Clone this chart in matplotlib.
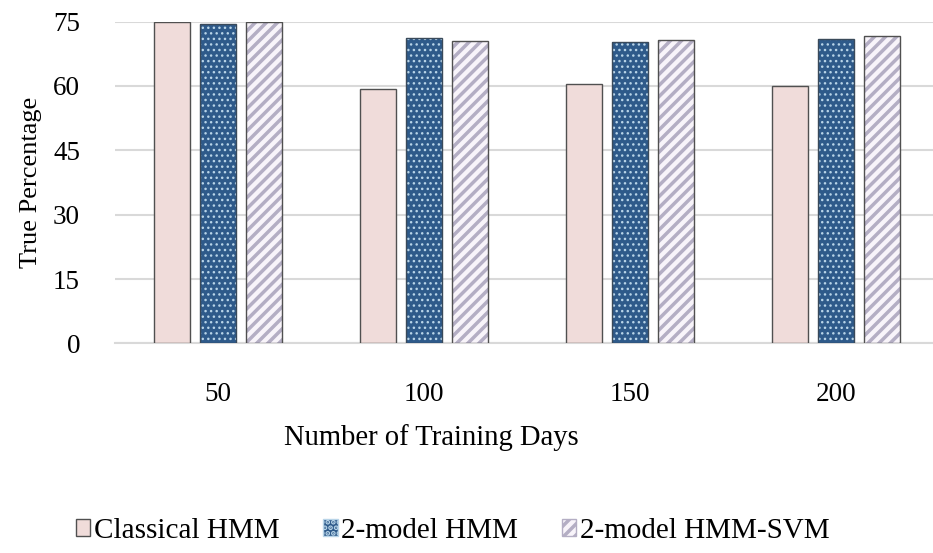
import matplotlib
matplotlib.use("Agg")
import matplotlib.pyplot as plt
import numpy as np
from matplotlib.patches import Patch

days = ["50", "100", "150", "200"]
classical = [74.8, 59.3, 60.5, 59.9]
two_model = [74.5, 71.1, 70.3, 71.0]
hmm_svm = [74.8, 70.5, 70.7, 71.7]
yticks = [0, 15, 30, 45, 60, 75]

plt.rcParams['font.family'] = ['Liberation Serif', 'DejaVu Serif']
plt.rcParams['font.size'] = 20

fig = plt.figure(figsize=(9.33, 5.53), dpi=100)
ax = fig.add_axes([0.123, 0.379, 0.884, 0.582])

x = np.arange(len(days))
w = 0.175
off = 0.223
edge = '#505050'
dot_face, dot_col = '#2E5A8A', '#B8D4E8'
str_face, str_col = '#F8F4FA', '#B4AEC4'

# classical HMM - plain pink
ax.bar(x - off, classical, w, color='#F0DCDA', edgecolor=edge, linewidth=1, zorder=3)

# 2-model HMM - dark blue with light dots
plt.rcParams['hatch.linewidth'] = 1.0
ax.bar(x, two_model, w, color=dot_face, edgecolor=dot_col, hatch='...', linewidth=0, zorder=3)
ax.bar(x, two_model, w, fill=False, edgecolor='#3A4A5A', linewidth=1, zorder=4)
h2 = Patch(facecolor=dot_face, edgecolor=dot_col, hatch='...', label='2-model HMM')

# 2-model HMM-SVM - light with gray diagonal stripes
plt.rcParams['hatch.linewidth'] = 2.5
ax.bar(x + off, hmm_svm, w, color=str_face, edgecolor=str_col, hatch='///', linewidth=0, zorder=3)
ax.bar(x + off, hmm_svm, w, fill=False, edgecolor=edge, linewidth=1, zorder=4)
h3 = Patch(facecolor=str_face, edgecolor=str_col, hatch='///', label='2-model HMM-SVM')

ax.set_xlim(-0.5, 3.5)
ax.set_ylim(0, 75)
ax.set_yticks(yticks)
ax.set_xticks(x)
ax.set_xticklabels(days)
ax.tick_params(length=0, labelsize=19.5)
ax.tick_params(axis='y', pad=25)
ax.tick_params(axis='x', pad=28)
ax.yaxis.grid(True, color='#D9D9D9', linewidth=1.5, zorder=0)
ax.set_axisbelow(True)
for s in ['top', 'right', 'left']:
    ax.spines[s].set_visible(False)
ax.spines['bottom'].set_color('#D9D9D9')
ax.spines['bottom'].set_linewidth(1.5)

ax.set_ylabel("True Percentage", fontsize=19)
ax.yaxis.set_label_coords(-0.088, 0.5)
ax.set_xlabel("Number of Training Days", fontsize=20.6)
ax.xaxis.set_label_coords(0.384, -0.25)

h1 = Patch(facecolor='#F0DCDA', edgecolor=edge, label='Classical HMM')
fig.legend(handles=[h1, h2, h3], loc='center', bbox_to_anchor=(0.485, 0.04), ncol=3,
           frameon=False, fontsize=21, handlelength=0.5, handleheight=0.5,
           handletextpad=0.12, columnspacing=1.5)

fig.savefig("out.png", dpi=100)
